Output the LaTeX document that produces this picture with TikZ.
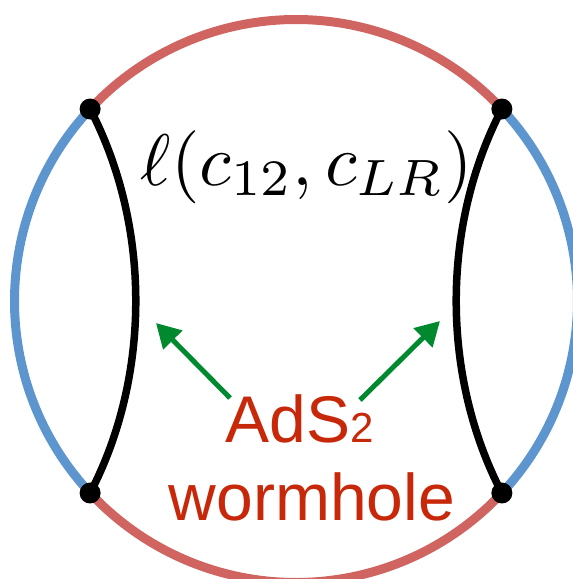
\documentclass[tikz,border=0pt]{standalone}
\usepackage{fontspec}
\setmainfont{Liberation Sans}
\usetikzlibrary{arrows.meta,calc}
\definecolor{arcred}{RGB}{207,100,97}
\definecolor{arcblue}{RGB}{93,150,207}
\definecolor{txtred}{RGB}{200,40,10}
\definecolor{arrgreen}{RGB}{0,137,47}
\tikzset{
  arcline/.style={line width=9pt},
  geo/.style={line width=7.5pt, black},
  enddot/.style={circle, fill=black, inner sep=0pt, minimum size=21pt},
  greenarrow/.style={line width=5pt, arrgreen, -{Triangle[length=24pt,width=26pt]}},
  labeltext/.style={txtred, inner sep=0pt, font=\fontsize{66}{78}\selectfont}
}
\begin{document}
\begin{tikzpicture}[x=1pt,y=-1pt]
\useasboundingbox (0,0) rectangle (573,579);
\coordinate (O) at (296,301);
% boundary circle
\draw[arcline, arcred] (O) ++(43:281.5) arc[start angle=43, end angle=137, radius=281.5];
\draw[arcline, arcred] (O) ++(223:281.5) arc[start angle=223, end angle=317, radius=281.5];
\draw[arcline, arcblue] (O) ++(137:281.5) arc[start angle=137, end angle=223, radius=281.5];
\draw[arcline, arcblue] (O) ++(-43:281.5) arc[start angle=-43, end angle=43, radius=281.5];
% end points
\node[enddot] (tl) at ($(O)+(223:281.5)$) {};
\node[enddot] (bl) at ($(O)+(137:281.5)$) {};
\node[enddot] (tr) at ($(O)+(-43:281.5)$) {};
\node[enddot] (br) at ($(O)+(43:281.5)$) {};
% geodesics
\draw[geo] (tl.center) .. controls (151,226) and (151,376) .. (bl.center);
\draw[geo] (tr.center) .. controls (441,226) and (441,376) .. (br.center);
% labels
\node[anchor=base, inner sep=0pt, scale=7.3] (len) at (307,185) {$\ell(c_{12},c_{LR})$};
\node[labeltext, anchor=base] (ads) at (300,442) {AdS{\fontsize{42}{42}\selectfont 2}};
\node[labeltext, anchor=base] (worm) at (312,520) {wormhole};
% arrows
\coordinate (la) at (230,398);
\coordinate (lt) at (156,323);
\coordinate (ra) at (360,400);
\coordinate (rt) at (440,321);
\draw[greenarrow] (la) -- (lt);
\draw[greenarrow] (ra) -- (rt);
\end{tikzpicture}
\end{document}
